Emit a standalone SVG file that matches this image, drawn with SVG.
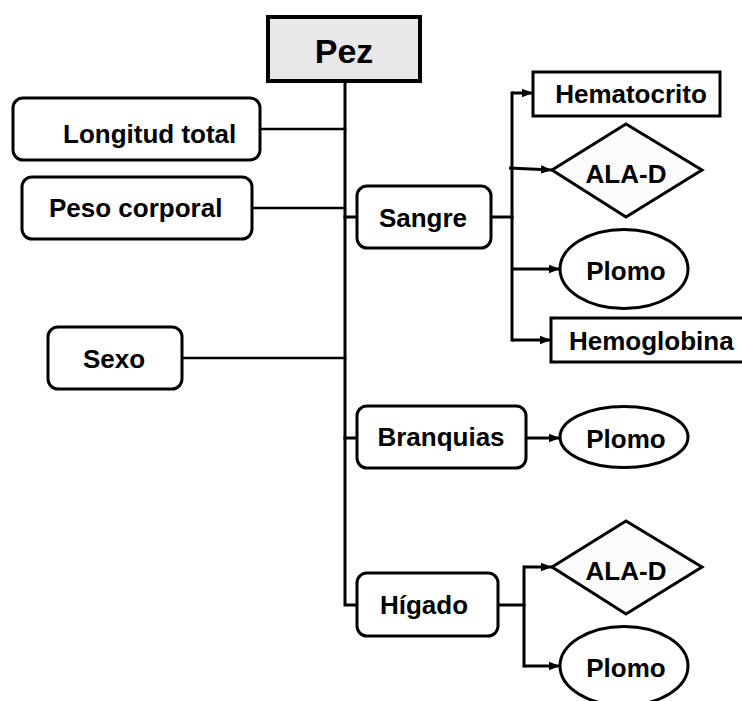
<svg xmlns="http://www.w3.org/2000/svg" width="742" height="701" viewBox="0 0 742 701">
  <style>
    .box { fill: #ffffff; stroke: #000000; stroke-width: 3; }
    .root { fill: #e8e8e8; stroke: #000000; stroke-width: 4; }
    .lbl { font-family: "Liberation Sans", Arial, Helvetica, sans-serif; font-weight: bold; font-size: 26px; fill: #000000; }
    .mid { text-anchor: middle; }
    .line { fill: none; stroke: #000000; stroke-width: 3; stroke-linecap: square; }
    .arrow { fill: none; stroke: #000000; stroke-width: 3; marker-end: url(#head); }
  </style>
  <defs>
    <marker id="head" markerUnits="userSpaceOnUse" markerWidth="12" markerHeight="10" refX="11" refY="5" orient="auto">
      <path d="M0,0.8 L11,5 L0,9.2 Z" fill="#000000"/>
    </marker>
  </defs>
  <rect width="742" height="701" fill="#ffffff"/>

  <!-- connectors -->
  <g id="connectors">
    <!-- trunk from root down to the liver branch -->
    <path class="line" d="M345,81 L345,605 L357,605"/>
    <path class="line" d="M260,129 L345,129" style="stroke-width:2.5"/>
    <path class="line" d="M252,208 L345,208" style="stroke-width:2.5"/>
    <path class="line" d="M182,358 L345,358" style="stroke-width:2.5"/>
    <path class="line" d="M345,217 L357,217"/>
    <path class="line" d="M345,438 L357,438"/>
    <!-- blood branch -->
    <path class="line" d="M491,217 L512,217"/>
    <path class="line" d="M512,93 L512,340"/>
    <path class="arrow" d="M512,93 L533,93"/>
    <path class="arrow" d="M509,168 L552,170"/>
    <path class="arrow" d="M512,269 L560,269"/>
    <path class="arrow" d="M512,340 L551,340"/>
    <!-- gills branch -->
    <path class="arrow" d="M526,438 L560,438"/>
    <!-- liver branch -->
    <path class="line" d="M498,605 L524,605"/>
    <path class="line" d="M524,567 L524,666"/>
    <path class="arrow" d="M524,567 L552,567"/>
    <path class="arrow" d="M524,666 L560,666"/>
  </g>

  <g id="pez">
    <rect class="root" x="268" y="17" width="152" height="64"/>
    <text class="lbl mid" x="344" y="63" style="font-size:34px">Pez</text>
  </g>

  <g id="longitud-total">
    <rect class="box" x="13" y="98" width="247" height="62" rx="10"/>
    <text class="lbl" x="63" y="143">Longitud total</text>
  </g>

  <g id="peso-corporal">
    <rect class="box" x="22" y="177" width="230" height="62" rx="10"/>
    <text class="lbl" x="49" y="217">Peso corporal</text>
  </g>

  <g id="sexo">
    <rect class="box" x="48" y="327" width="134" height="62" rx="10"/>
    <text class="lbl mid" x="114" y="368">Sexo</text>
  </g>

  <g id="sangre">
    <rect class="box" x="357" y="186" width="134" height="62" rx="10"/>
    <text class="lbl mid" x="423" y="227">Sangre</text>
  </g>

  <g id="hematocrito">
    <rect class="box" x="533" y="72" width="187" height="44"/>
    <text class="lbl mid" x="631" y="103">Hematocrito</text>
  </g>

  <g id="ala-d-sangre">
    <polygon class="box" points="552,170 626,124 702,170 626,217" style="fill:#fbfbfb"/>
    <text class="lbl mid" x="626" y="183">ALA-D</text>
  </g>

  <g id="plomo-sangre">
    <ellipse class="box" cx="624" cy="269" rx="64" ry="39.5"/>
    <text class="lbl mid" x="626" y="280">Plomo</text>
  </g>

  <g id="hemoglobina">
    <rect class="box" x="551" y="318" width="195" height="44"/>
    <text class="lbl" x="569" y="350">Hemoglobina</text>
  </g>

  <g id="branquias">
    <rect class="box" x="357" y="406" width="169" height="62" rx="10"/>
    <text class="lbl mid" x="441" y="446">Branquias</text>
  </g>

  <g id="plomo-branquias">
    <ellipse class="box" cx="624" cy="437" rx="64" ry="30.5"/>
    <text class="lbl mid" x="626" y="448">Plomo</text>
  </g>

  <g id="higado">
    <rect class="box" x="357" y="573" width="141" height="63" rx="10"/>
    <text class="lbl mid" x="424" y="614">Hígado</text>
  </g>

  <g id="ala-d-higado">
    <polygon class="box" points="552,567 626,521 702,567 626,614" style="fill:#fbfbfb"/>
    <text class="lbl mid" x="626" y="580">ALA-D</text>
  </g>

  <g id="plomo-higado">
    <ellipse class="box" cx="624" cy="666" rx="64" ry="39.5"/>
    <text class="lbl mid" x="626" y="677">Plomo</text>
  </g>
</svg>
